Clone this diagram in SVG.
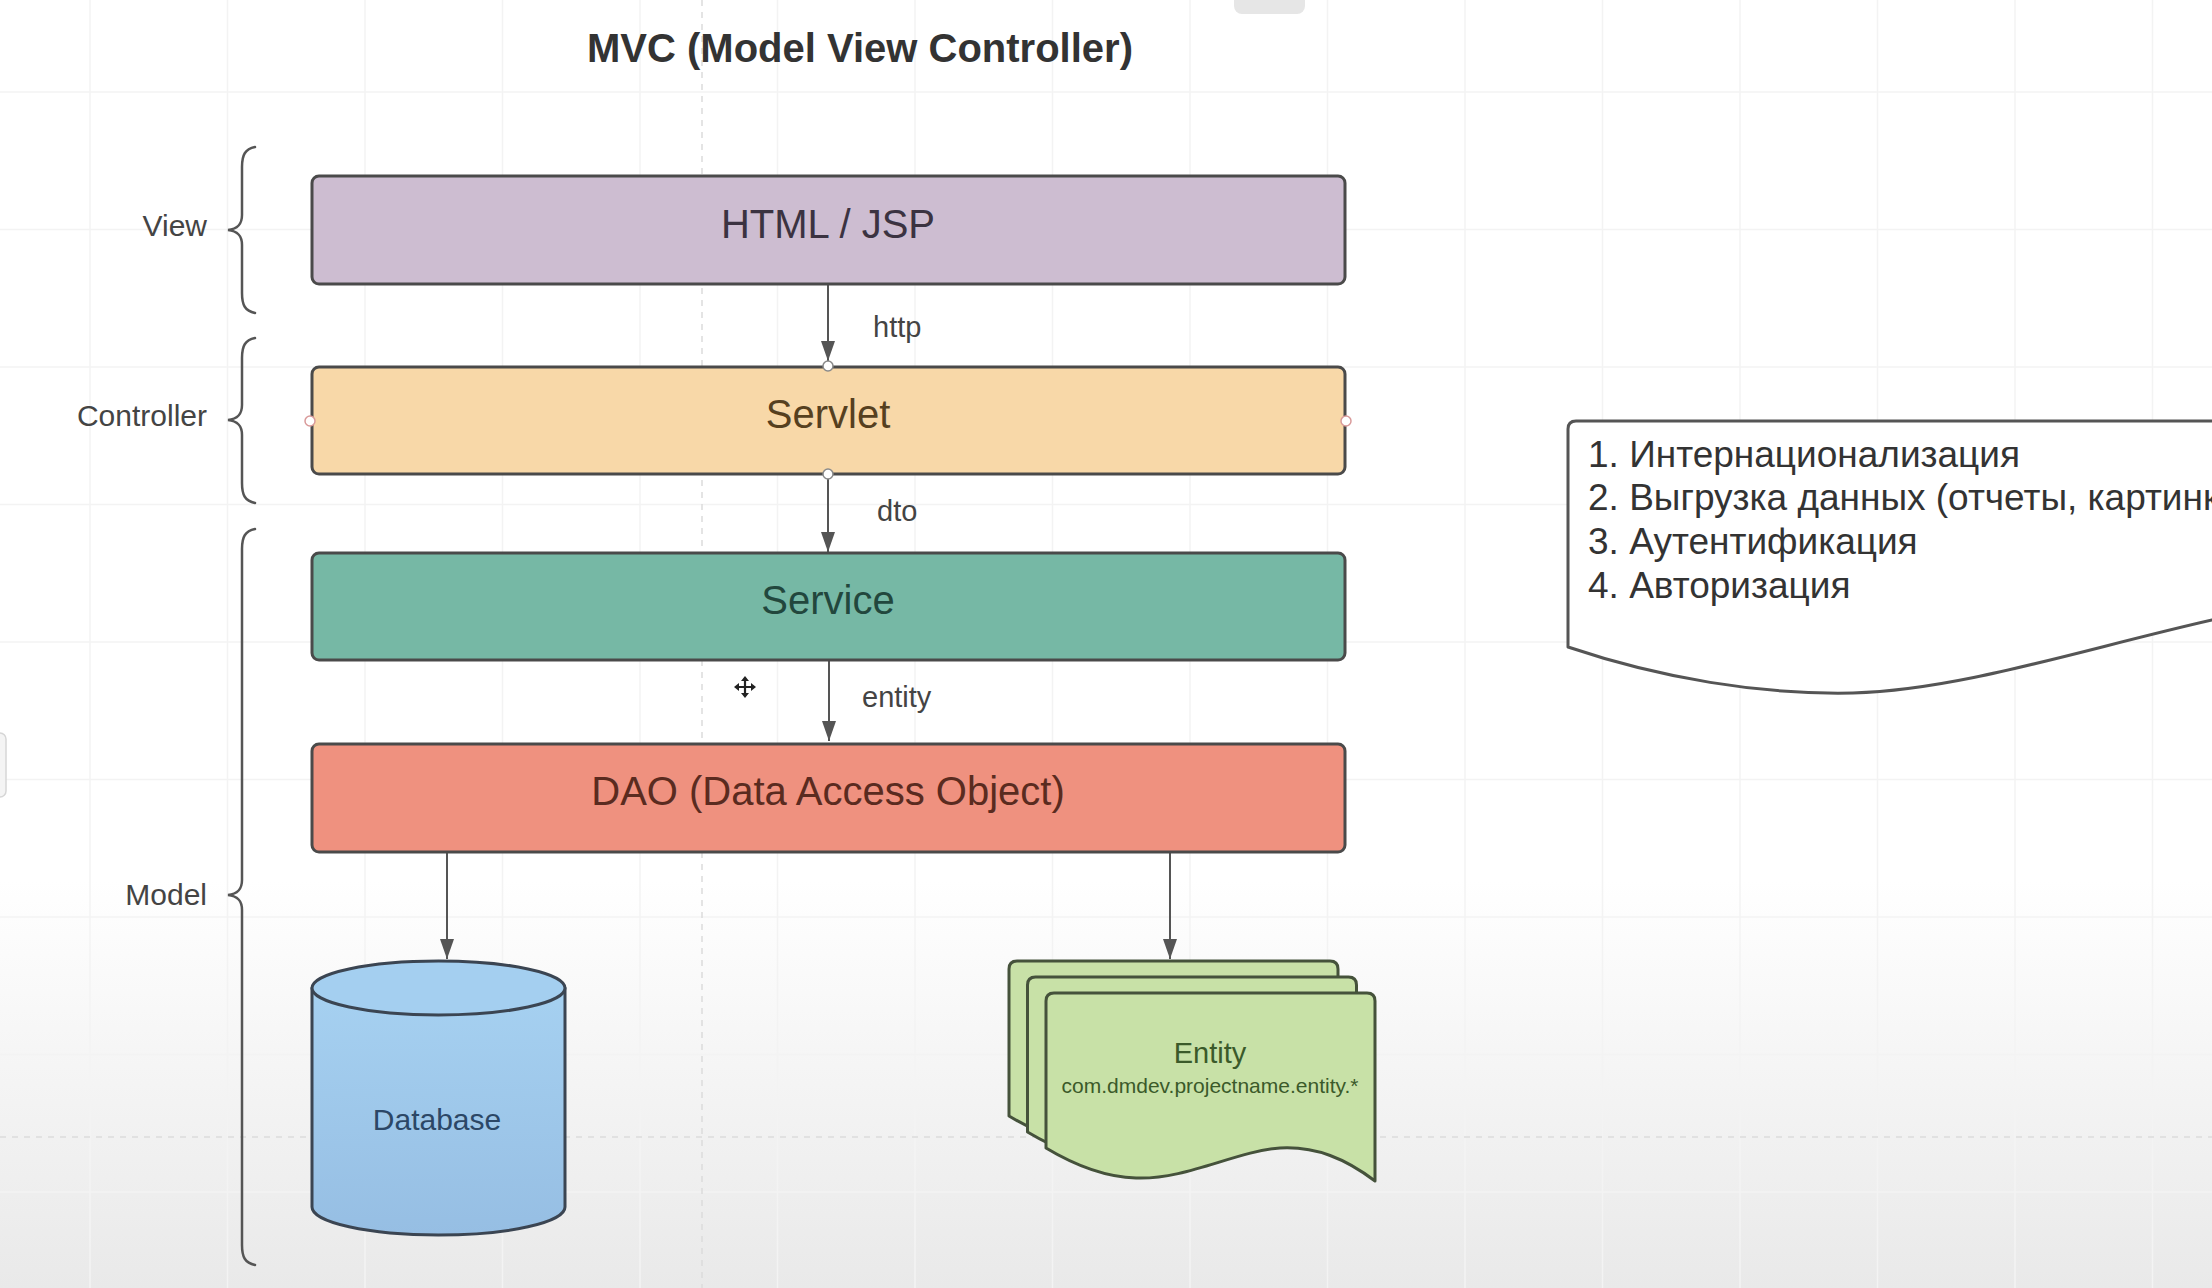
<svg xmlns="http://www.w3.org/2000/svg" width="2212" height="1288" viewBox="0 0 2212 1288">
  <style>
    text { font-family: "Liberation Sans", Arial, sans-serif; }
    .title { font-size: 40px; font-weight: bold; fill: #333333; }
    .box { stroke: #4a4a4a; stroke-width: 3; }
    .blabel { font-size: 40px; text-anchor: middle; }
    .side { font-size: 30px; fill: #444444; text-anchor: end; }
    .elabel { font-size: 29px; fill: #444444; }
    .brace { fill: none; stroke: #555555; stroke-width: 2.5; stroke-linecap: round; }
    .conn { stroke: #555555; stroke-width: 2; fill: none; }
    .grid { stroke: #f3f3f3; stroke-width: 1.5; }
    .pagebreak { stroke: #dcdcdc; stroke-width: 1.5; stroke-dasharray: 6 6; }
    .handle { fill: #ffffff; stroke-width: 1.5; }
    .doc { fill: #c8e1a7; stroke: #45523b; stroke-width: 3; stroke-linejoin: round; }
    .note { font-size: 37px; fill: #333333; }
  </style>
  <defs>
    <marker id="arrow" markerWidth="20" markerHeight="14" refX="20" refY="7" orient="auto" markerUnits="userSpaceOnUse">
      <path d="M0,0 L20,7 L0,14 Z" fill="#555555"/>
    </marker>
    <linearGradient id="bgfade" x1="0" y1="0" x2="0" y2="1">
      <stop offset="0" stop-color="#ffffff"/>
      <stop offset="1" stop-color="#e9e9e9"/>
    </linearGradient>
    <linearGradient id="dbfill" x1="0" y1="0" x2="0" y2="1">
      <stop offset="0" stop-color="#a6d1f1"/>
      <stop offset="1" stop-color="#96bee3"/>
    </linearGradient>
    <path id="docshape" d="M0,155 L0,8 Q0,0 8,0 L321,0 Q329,0 329,8 L329,188 C300,166 270,153 234,155 C190,158 140,187 90,185 C55,184 25,170 0,155 Z"/>
  </defs>

  <!-- background -->
  <rect x="0" y="0" width="2212" height="1288" fill="#ffffff"/>
  <rect x="0" y="880" width="2212" height="408" fill="url(#bgfade)"/>
  <g id="grid">
    <path class="grid" d="M90,0V1288 M227.5,0V1288 M365,0V1288 M502.5,0V1288 M640,0V1288 M777.5,0V1288 M915,0V1288 M1052.5,0V1288 M1190,0V1288 M1327.5,0V1288 M1465,0V1288 M1602.5,0V1288 M1740,0V1288 M1877.5,0V1288 M2015,0V1288 M2152.5,0V1288"/>
    <path class="grid" d="M0,92H2212 M0,229.5H2212 M0,367H2212 M0,504.5H2212 M0,642H2212 M0,779.5H2212 M0,917H2212 M0,1054.5H2212 M0,1192H2212"/>
    <path class="pagebreak" d="M702,0V1288 M0,1137H2212"/>
  </g>
  <g id="ui">
    <rect x="1234" y="-12" width="71" height="26" rx="8" fill="#e6e6e6"/>
    <rect x="-10" y="733" width="16" height="64" rx="6" fill="#f4f4f4" stroke="#d6d6d6" stroke-width="1.5"/>
  </g>

  <!-- title -->
  <text class="title" x="587" y="62">MVC (Model View Controller)</text>

  <!-- side labels and braces -->
  <g id="label-view">
    <text class="side" x="207" y="236">View</text>
    <path class="brace" d="M255,147 C245,149 242,155 242,167 L242,215 C242,225 237,229 228,230 C237,231 242,235 242,245 L242,293 C242,305 245,311 255,313"/>
  </g>
  <g id="label-controller">
    <text class="side" x="207" y="426">Controller</text>
    <path class="brace" d="M255,338 C245,340 242,346 242,358 L242,405 C242,415 237,419 228,420 C237,421 242,425 242,435 L242,483 C242,495 245,501 255,503"/>
  </g>
  <g id="label-model">
    <text class="side" x="207" y="905">Model</text>
    <path class="brace" d="M255,529 C245,531 242,537 242,549 L242,880 C242,890 237,894 228,895 C237,896 242,900 242,910 L242,1245 C242,1257 245,1263 255,1265"/>
  </g>

  <!-- connectors -->
  <g id="connectors">
    <line class="conn" x1="828" y1="285" x2="828" y2="361" marker-end="url(#arrow)"/>
    <text class="elabel" x="873" y="337">http</text>
    <line class="conn" x1="828" y1="474" x2="828" y2="552" marker-end="url(#arrow)"/>
    <text class="elabel" x="877" y="521">dto</text>
    <line class="conn" x1="829" y1="661" x2="829" y2="741" marker-end="url(#arrow)"/>
    <text class="elabel" x="862" y="707">entity</text>
    <line class="conn" x1="447" y1="853" x2="447" y2="959" marker-end="url(#arrow)"/>
    <line class="conn" x1="1170" y1="853" x2="1170" y2="959" marker-end="url(#arrow)"/>
  </g>

  <!-- nodes -->
  <g id="html-jsp">
    <rect class="box" x="312" y="176" width="1033" height="108" rx="7" fill="#cdbdd1"/>
    <text class="blabel" x="828" y="238" fill="#3b3341">HTML / JSP</text>
  </g>
  <g id="servlet">
    <rect class="box" x="312" y="367" width="1033" height="107" rx="7" fill="#f8d8a8"/>
    <text class="blabel" x="828" y="428" fill="#56401f">Servlet</text>
    <circle class="handle" cx="828" cy="366" r="5" stroke="#8a8a8a"/>
    <circle class="handle" cx="828" cy="474" r="5" stroke="#8a8a8a"/>
    <circle class="handle" cx="310" cy="421" r="5" stroke="#d99a9a"/>
    <circle class="handle" cx="1346" cy="421" r="5" stroke="#d99a9a"/>
  </g>
  <g id="service">
    <rect class="box" x="312" y="553" width="1033" height="107" rx="7" fill="#76b8a5"/>
    <text class="blabel" x="828" y="614" fill="#22473d">Service</text>
  </g>
  <g id="dao">
    <rect class="box" x="312" y="744" width="1033" height="108" rx="7" fill="#ef917f"/>
    <text class="blabel" x="828" y="805" fill="#5a2b20">DAO (Data Access Object)</text>
  </g>
  <g id="database">
    <path d="M312,988 L312,1207 A126.5,28 0 0 0 565,1207 L565,988 Z" fill="url(#dbfill)" stroke="#3b4552" stroke-width="3" stroke-linejoin="round"/>
    <ellipse cx="438.5" cy="988" rx="126.5" ry="27" fill="#a4cff0" stroke="#3b4552" stroke-width="3"/>
    <text x="437" y="1130" font-size="30" text-anchor="middle" fill="#2c4766">Database</text>
  </g>
  <g id="entity">
    <use href="#docshape" class="doc" transform="translate(1009,961)"/>
    <use href="#docshape" class="doc" transform="translate(1027.5,977)"/>
    <use href="#docshape" class="doc" transform="translate(1046,993)"/>
    <text x="1210" y="1063" font-size="29" text-anchor="middle" fill="#3b5a2a">Entity</text>
    <text x="1210" y="1093" font-size="21" text-anchor="middle" fill="#3b5a2a">com.dmdev.projectname.entity.*</text>
  </g>
  <g id="note">
    <path d="M1568,647 C1660,678 1760,695 1853,693 C1960,690 2080,650 2212,620 L2240,614 L2240,421 L1576,421 Q1568,421 1568,429 Z" fill="#ffffff" stroke="#555555" stroke-width="3" stroke-linejoin="round"/>
    <text class="note" x="1588" y="467">1. Интернационализация</text>
    <text class="note" x="1588" y="510">2. Выгрузка данных (отчеты, картинк</text>
    <text class="note" x="1588" y="554">3. Аутентификация</text>
    <text class="note" x="1588" y="598">4. Авторизация</text>
  </g>
  <g id="cursor" fill="#222222" stroke="#222222">
    <path d="M745,678 V696 M736,687 H754" stroke-width="2.2" fill="none"/>
    <path d="M745,676 L741,681 H749 Z M745,698 L741,693 H749 Z M734,687 L739,683 V691 Z M756,687 L751,683 V691 Z" stroke="none"/>
  </g>
</svg>
